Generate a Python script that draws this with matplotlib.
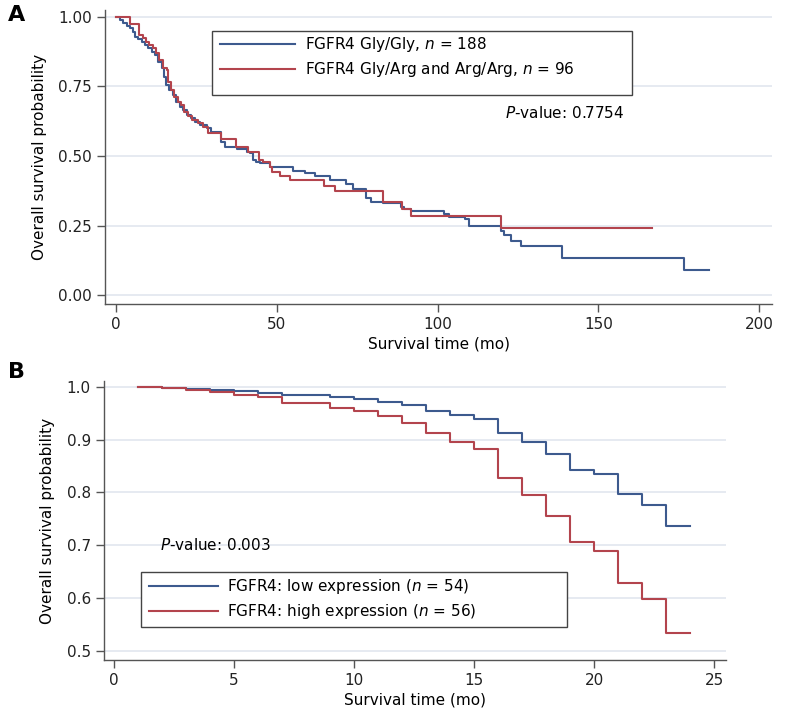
import numpy as np
import matplotlib
matplotlib.use("Agg")
import matplotlib.pyplot as plt
from matplotlib.patches import Rectangle

# ---- panel A : FGFR4 genotype, survival in months ----
a_gly_t = [0, 1.2, 2.3, 3.3, 4.3, 5.2, 5.9, 6.9, 8.0, 9.0, 10.0, 11.1, 12.1, 13.1, 14.2, 14.9,
           15.7, 16.6, 17.6, 18.8, 19.9, 20.9, 22.1, 23.2, 24.5, 26.1, 28.2, 29.6, 32.8, 33.8,
           37.5, 40.6, 41.6, 42.7, 43.7, 44.7, 47.8, 55.1, 58.7, 61.8, 66.5, 71.6, 73.7, 77.9,
           79.4, 83.0, 88.7, 89.7, 91.8, 101.9, 103.7, 108.4, 109.7, 119.8, 120.8, 122.9,
           126.0, 138.6, 176.7, 184.5]
a_gly_s = [1.0, 0.989, 0.977, 0.968, 0.959, 0.947, 0.929, 0.920, 0.911, 0.899, 0.887, 0.875,
           0.863, 0.839, 0.815, 0.785, 0.755, 0.737, 0.719, 0.695, 0.677, 0.665, 0.647, 0.636,
           0.623, 0.612, 0.600, 0.585, 0.551, 0.533, 0.524, 0.515, 0.510, 0.486, 0.480, 0.474,
           0.462, 0.447, 0.440, 0.428, 0.414, 0.398, 0.380, 0.348, 0.336, 0.332, 0.318, 0.308,
           0.302, 0.290, 0.282, 0.272, 0.248, 0.230, 0.216, 0.194, 0.177, 0.132, 0.090, 0.090]

a_arg_t = [0, 4.3, 7.2, 8.3, 9.3, 10.4, 11.4, 12.5, 13.5, 14.5, 15.8, 16.2, 17.1, 18.2, 19.2,
           20.3, 21.3, 22.4, 23.7, 25.5, 27.0, 28.5, 32.8, 37.3, 41.1, 44.5, 45.8, 47.8, 48.4,
           50.9, 54.0, 64.6, 68.0, 83.0, 89.0, 91.8, 119.8, 166.7]
a_arg_s = [1.0, 0.975, 0.935, 0.923, 0.911, 0.899, 0.887, 0.869, 0.845, 0.815, 0.809, 0.767,
           0.737, 0.711, 0.695, 0.683, 0.659, 0.643, 0.629, 0.617, 0.605, 0.581, 0.561, 0.533,
           0.515, 0.486, 0.480, 0.462, 0.444, 0.428, 0.414, 0.394, 0.375, 0.336, 0.310, 0.283,
           0.242, 0.242]

a_labels = [r"FGFR4 Gly/Gly, $\it{n}$ = 188", r"FGFR4 Gly/Arg and Arg/Arg, $\it{n}$ = 96"]
a_pval = "0.7754"

# ---- panel B : FGFR4 expression ----
b_t = [1, 2, 3, 4, 5, 6, 7, 9, 10, 11, 12, 13, 14, 15, 16, 17, 18, 19, 20, 21, 22, 23, 24]
b_low_s = [1.0, 0.998, 0.996, 0.994, 0.992, 0.989, 0.985, 0.981, 0.977, 0.972, 0.966, 0.955,
           0.947, 0.939, 0.912, 0.895, 0.872, 0.843, 0.835, 0.797, 0.777, 0.737, 0.737]
b_high_s = [1.0, 0.997, 0.994, 0.991, 0.984, 0.980, 0.969, 0.959, 0.954, 0.944, 0.931, 0.913,
            0.896, 0.882, 0.828, 0.795, 0.756, 0.706, 0.690, 0.629, 0.598, 0.535, 0.535]

b_labels = [r"FGFR4: low expression ($\it{n}$ = 54)", r"FGFR4: high expression ($\it{n}$ = 56)"]
b_pval = "0.003"

BLUE = "#3d5a8e"
RED = "#b3444d"
GRID = "#e4e8f0"
AXC = "#555555"

plt.rcParams["font.family"] = "DejaVu Sans"
plt.rcParams["font.size"] = 11
plt.rcParams["mathtext.fontset"] = "dejavusans"

W, H = 786, 712
fig = plt.figure(figsize=(W / 100, H / 100), dpi=100)


def px_axes(l, t, r, b):
    return fig.add_axes([l / W, 1 - b / H, (r - l) / W, (b - t) / H])


def style(ax):
    for s in ["top", "right"]:
        ax.spines[s].set_visible(False)
    for s in ["left", "bottom"]:
        ax.spines[s].set_color(AXC)
        ax.spines[s].set_linewidth(1.0)
    ax.tick_params(colors="#222222", length=6, width=1.0, color=AXC, labelsize=11)
    ax.yaxis.grid(True, color=GRID, lw=1.3)
    ax.set_axisbelow(True)


def legend_box(ax, l, t, r, b, labels_top, **kw):
    # white framed box drawn in pixel coords, legend entries placed inside it without frame
    ax.add_patch(Rectangle((l / W, 1 - b / H), (r - l) / W, (b - t) / H, transform=fig.transFigure,
                           facecolor="white", edgecolor="#444444", lw=1.0, zorder=4, clip_on=False))
    leg = ax.legend(loc="upper left", bbox_to_anchor=((l + 8) / W, 1 - labels_top / H),
                    bbox_transform=fig.transFigure, frameon=False, borderpad=0, borderaxespad=0,
                    fontsize=11, **kw)
    leg.set_zorder(5)
    return leg


# panel A
axA = px_axes(105, 10, 772, 304)
style(axA)
axA.step(a_gly_t, a_gly_s, where="post", color=BLUE, lw=1.5, label=a_labels[0])
axA.step(a_arg_t, a_arg_s, where="post", color=RED, lw=1.5, label=a_labels[1])
axA.set_xlim(-3.4, 204)
axA.set_ylim(-0.032, 1.025)
axA.set_xticks([0, 50, 100, 150, 200])
axA.set_yticks([0, 0.25, 0.5, 0.75, 1.0])
axA.set_yticklabels(["0.00", "0.25", "0.50", "0.75", "1.00"])
axA.set_xlabel("Survival time (mo)", labelpad=3)
axA.set_ylabel("Overall survival probability", labelpad=8)
legend_box(axA, 212, 31, 632, 95, 35, handlelength=4.9, handletextpad=0.65, labelspacing=0.42)
axA.text(505 / W, 1 - 113 / H, r"$\it{P}$-value: " + a_pval, transform=fig.transFigure,
         va="center", ha="left", fontsize=11)

# panel B
axB = px_axes(104, 381, 726, 660)
style(axB)
axB.step(b_t, b_low_s, where="post", color=BLUE, lw=1.5, label=b_labels[0])
axB.step(b_t, b_high_s, where="post", color=RED, lw=1.5, label=b_labels[1])
axB.set_xlim(-0.42, 25.5)
axB.set_ylim(0.483, 1.011)
axB.set_xticks([0, 5, 10, 15, 20, 25])
axB.set_yticks([0.5, 0.6, 0.7, 0.8, 0.9, 1.0])
axB.set_xlabel("Survival time (mo)", labelpad=3)
axB.set_ylabel("Overall survival probability", labelpad=8)
legend_box(axB, 141, 572, 567, 627, 577, handlelength=4.5, handletextpad=0.6, labelspacing=0.4)
axB.text(160 / W, 1 - 545 / H, r"$\it{P}$-value: " + b_pval, transform=fig.transFigure,
         va="center", ha="left", fontsize=11)

fig.text(8 / W, 1 - 15 / H, "A", fontsize=16, fontweight="bold", va="center", ha="left")
fig.text(8 / W, 1 - 372 / H, "B", fontsize=16, fontweight="bold", va="center", ha="left")

fig.savefig("out.png", dpi=100)
